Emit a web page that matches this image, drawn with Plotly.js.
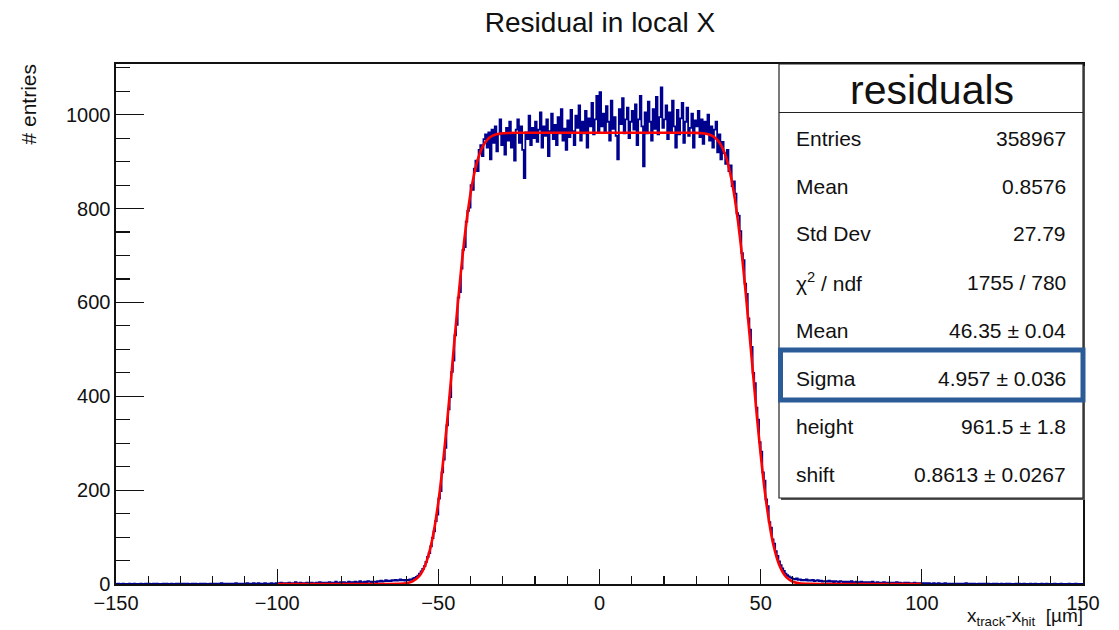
<!DOCTYPE html>
<html>
<head>
<meta charset="utf-8">
<script src="https://cdn.plot.ly/plotly-3.0.1.min.js"></script>
<style>html,body{margin:0;padding:0;background:#fff;}#chart{width:1119px;height:630px;}</style>
</head>
<body>
<div id="chart"></div>
<script>
// ---- data ----
const histXMin = -150;
const histBinWidth = 0.5;
const histCounts = [
  0,1,0,0,1,0,0,0,1,0,0,1,0,0,0,1,0,0,1,0,
  1,0,0,1,0,1,0,0,0,1,0,1,0,0,1,0,0,1,0,1,
  0,1,0,1,1,0,0,1,0,1,0,0,1,1,0,1,0,0,1,0,
  1,0,1,1,0,2,0,1,0,1,1,0,1,0,2,0,1,1,0,1,
  1,2,0,1,1,2,0,1,2,1,0,1,2,1,1,0,2,1,1,2,
  2,1,3,1,2,2,1,3,2,1,2,4,1,2,3,2,1,2,3,2,
  2,3,2,1,3,2,4,2,3,2,3,2,4,3,2,3,5,2,3,4,
  3,4,2,3,5,3,4,3,5,4,3,6,4,3,5,4,6,5,4,5,
  5,4,6,5,7,5,6,8,6,7,6,8,7,9,7,8,10,8,9,7,
  9,8,10,9,12,13,15,18,22,27,32,38,47,58,66,80,98,112,134,148,
  182,198,238,265,290,338,372,398,452,476,530,552,610,622,672,712,718,772,795,802,
  850,840,885,902,880,925,935,912,948,958,930,962,905,968,940,975,922,958,990,935,
  960,915,972,945,985,930,958,902,968,990,940,975,925,865,962,948,998,935,972,950,
  985,942,968,1005,930,975,955,990,912,965,1002,948,978,935,995,960,1012,945,970,925,
  988,952,1010,965,935,998,972,1020,945,985,960,1008,930,992,975,1025,958,990,1040,965,
  1048,975,1002,962,1018,985,945,1030,970,995,955,905,1012,980,1035,960,990,1015,950,985,
  1008,968,1022,935,990,1040,975,890,1005,960,1028,985,945,1012,970,1038,958,995,1058,972,
  990,1020,948,1005,965,1030,975,930,1010,958,992,1025,940,985,1015,955,972,1002,930,988,
  975,1008,952,990,938,985,962,1000,945,975,930,968,985,920,958,905,942,918,895,925,
  880,892,848,858,832,790,785,752,705,690,640,618,566,542,505,450,428,376,350,302,
  282,238,220,180,166,132,120,95,86,70,60,48,40,33,28,22,19,16,14,12,
  11,10,12,9,10,8,9,8,10,7,8,7,9,6,7,8,6,7,5,6,
  6,5,7,5,6,4,6,5,4,6,5,4,5,3,5,4,6,4,3,5,
  4,3,5,4,3,4,2,4,3,5,3,2,4,3,3,2,4,3,2,3,
  3,2,3,2,4,2,3,2,1,3,2,3,2,2,1,3,2,1,2,2,
  2,1,2,1,2,1,1,2,0,1,2,1,1,0,2,1,1,0,1,1,
  1,0,1,1,0,1,0,2,0,1,0,1,1,0,0,1,0,1,0,1,
  0,1,0,0,1,0,1,0,0,1,0,0,1,0,1,0,0,0,1,0,
  1,0,0,1,0,0,0,1,0,0,1,0,0,0,1,0,0,1,0,0,
  0,0,1,0,0,0,1,0,0,0,0,1,0,0,0,1,0,0,0,0
];

const fitX = [-100,-80,-70,-65,-62,-60,-58,-56,-55,-54,-53,-52,-51,-50,-49,-48,-47,-46,-45,-44,-43,-42,-41,-40,-39,-38,-37,-36,-35,-34,-32,-30,-25,-20,0,20,25,30,32,34,35,36,37,38,39,40,41,42,43,44,45,46,47,48,49,50,51,52,53,54,55,56,57,58,60,62,65,70,80,100];
const fitY = [0,0,0.01,0.04,0.4,1.6,5.7,16.3,26.4,41.3,62.4,91,128,174,230,295,365,441,519,594,665,730,786,833,870,899,920,935,945,952,958.3,960.6,961.4,961.5,961.5,961.5,961.5,961.25,960.5,957.8,954.9,950.1,942.6,931.1,914.5,891.5,860.4,820.5,771,713,646,573,497,420,345,276,213,160.6,116.7,82,55.9,36.6,23.2,14.2,4.75,1.37,0.16,0,0,0];

const statLabels = ["Entries","Mean","Std Dev","χ<sup>2</sup> / ndf","Mean","Sigma","height","shift"];
const statValues = ["358967","0.8576","27.79","1755 / 780","46.35 ± 0.04","4.957 ± 0.036","961.5 ± 1.8","0.8613 ± 0.0267"];
const statTitle = "residuals";
const xTickVals = [-150,-100,-50,0,50,100,150];
const yTickVals = [0,200,400,600,800,1000];

// ---- build histogram steps ----
const hx = [], hy = [];
for (let i = 0; i < histCounts.length; i++) { hx.push(histXMin + i*histBinWidth); hy.push(histCounts[i]); }
hx.push(histXMin + histCounts.length*histBinWidth); hy.push(histCounts[histCounts.length-1]);

// ---- pixel helpers for decorations ----
const M = {l:116, r:36, t:64, b:46};
const W = 1119 - M.l - M.r, H = 630 - M.t - M.b;
const px = x => (x - M.l)/W;
const py = y => (630 - M.b - y)/H;
const FONT = "Liberation Sans, Arial, Helvetica, sans-serif";
const TXT = "#111";

const traces = [
  {x: hx, y: hy, type:'scatter', mode:'lines', line:{shape:'hv', color:'#00008f', width:1.8}, hoverinfo:'skip'},
  {x: fitX, y: fitY, type:'scatter', mode:'lines', line:{shape:'spline', smoothing:0.5, color:'#ff0000', width:2.6}, hoverinfo:'skip'}
];

const annotations = [];
annotations.push({xref:'paper', yref:'paper', x:px(931.5), y:py(90), text:statTitle, showarrow:false, xanchor:'center', yanchor:'middle', font:{family:FONT, size:41, color:TXT}});
for (let i = 0; i < statLabels.length; i++) {
  const yy = 138 + 48*i;
  annotations.push({xref:'paper', yref:'paper', x:px(794), y:py(yy), text:statLabels[i], showarrow:false, xanchor:'left', yanchor:'middle', font:{family:FONT, size:21, color:TXT}});
  annotations.push({xref:'paper', yref:'paper', x:px(1068), y:py(yy), text:statValues[i], showarrow:false, xanchor:'right', yanchor:'middle', font:{family:FONT, size:21, color:TXT}});
}
annotations.push({xref:'paper', yref:'paper', x:px(28), y:py(62), text:'# entries', textangle:-90, showarrow:false, xanchor:'center', yanchor:'top', font:{family:FONT, size:21, color:TXT}});
annotations.push({xref:'paper', yref:'paper', x:px(1085), y:py(631), text:'x<sub>track</sub>-x<sub>hit</sub>  [µm]', showarrow:false, xanchor:'right', yanchor:'bottom', font:{family:FONT, size:19, color:TXT}});

const shapes = [
  {type:'rect', xref:'paper', yref:'paper', x0:px(781), x1:px(1085), y0:py(500), y1:py(66), line:{width:0}, fillcolor:'#555', layer:'above'},
  {type:'rect', xref:'paper', yref:'paper', x0:px(779), x1:px(1083), y0:py(498), y1:py(64), line:{color:'#222', width:1.2}, fillcolor:'#ffffff', layer:'above'},
  {type:'line', xref:'paper', yref:'paper', x0:px(779), x1:px(1083), y0:py(112.5), y1:py(112.5), line:{color:'#222', width:1.2}, layer:'above'},
  {type:'rect', xref:'paper', yref:'paper', x0:px(780.5), x1:px(1083), y0:py(400), y1:py(350), line:{color:'#2c5c97', width:5}, fillcolor:'rgba(0,0,0,0)', layer:'above'}
];

const layout = {
  width:1119, height:630,
  margin:M,
  paper_bgcolor:'#fff', plot_bgcolor:'#fff',
  showlegend:false,
  title:{text:'Residual in local X', x:600/1119, xanchor:'center', xref:'container', y:1-22/630, yanchor:'middle', yref:'container', font:{family:FONT, size:28, color:TXT}},
  xaxis:{range:[-150,150], tickvals:xTickVals, ticks:'inside', ticklen:15, tickwidth:1.2, tickcolor:'#111',
         minor:{dtick:10, tick0:0, ticks:'inside', ticklen:8, tickwidth:1.1, tickcolor:'#111', showgrid:false},
         showline:true, linecolor:'#111', linewidth:1.6, mirror:true, showgrid:false, zeroline:false,
         tickfont:{family:FONT, size:20, color:TXT}, fixedrange:true},
  yaxis:{range:[0,1108], tickvals:yTickVals, ticks:'inside', ticklen:28, tickwidth:1.2, tickcolor:'#111',
         minor:{dtick:50, tick0:0, ticks:'inside', ticklen:14, tickwidth:1.1, tickcolor:'#111', showgrid:false},
         showline:true, linecolor:'#111', linewidth:1.6, mirror:true, showgrid:false, zeroline:false,
         tickfont:{family:FONT, size:20, color:TXT}, fixedrange:true},
  annotations:annotations,
  shapes:shapes
};

Plotly.newPlot('chart', traces, layout, {staticPlot:true, displayModeBar:false});
</script>
</body>
</html>
